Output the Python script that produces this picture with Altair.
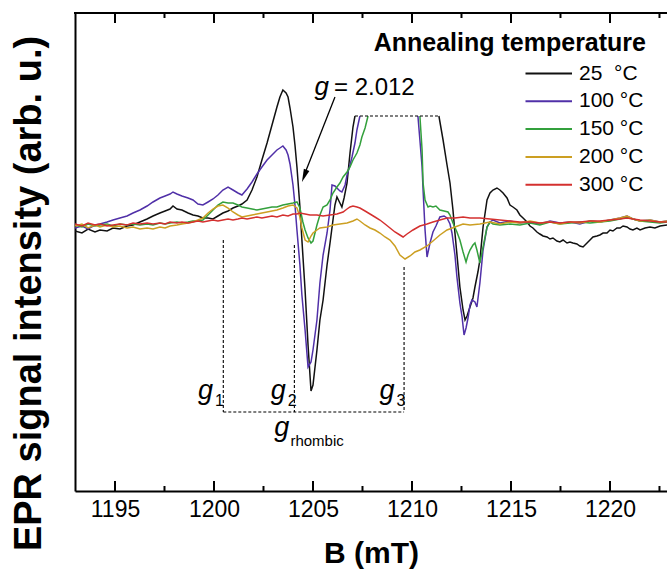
import altair as alt
import pandas as pd

FONT = "Liberation Sans"

SERIES = ["25 °C", "100 °C", "150 °C", "200 °C", "300 °C"]
COLORS = ["#111111", "#5030a8", "#33a03c", "#cc9f22", "#d4302f"]
LEGEND_LABELS = ["\u00a025\u00a0\u00a0°C", "100 °C", "150 °C", "200 °C", "300 °C"]

TICK_VALUES = [1195, 1200, 1205, 1210, 1215, 1220]
MINOR_TICKS = [1197.5, 1202.5, 1207.5, 1212.5, 1217.5, 1222.5]

# ---- 25 °C (two pieces, the top is cut at the dashed line)
B25_a = [1192.98, 1193.33, 1193.64, 1193.99, 1194.24, 1194.60, 1194.90, 1195.25, 1195.61, 1195.91,
         1196.26, 1196.62, 1196.92, 1197.27, 1197.53, 1197.78, 1197.93, 1198.13, 1198.38, 1198.69,
         1198.94, 1199.19, 1199.44, 1199.70, 1199.95, 1200.20, 1200.45, 1200.71, 1200.96, 1201.21,
         1201.41, 1201.67, 1201.92, 1202.17, 1202.42, 1202.68, 1202.93, 1203.18, 1203.33, 1203.48,
         1203.64, 1203.74, 1203.84, 1203.99, 1204.09, 1204.19, 1204.34, 1204.44, 1204.60, 1204.75,
         1204.90, 1205.00, 1205.20, 1205.35, 1205.51, 1205.71, 1205.86, 1206.01, 1206.11, 1206.21,
         1206.36, 1206.46, 1206.57, 1206.72, 1206.87, 1207.02, 1207.12]
I25_a = [-9, -11, -7, -10, -8, -9, -6, -7, -4, -3,
         0, 3, 6, 9, 11, 13, 16, 13, 12, 9,
         7, 6, 4, 4, 3, 6, 9, 11, 14, 16,
         18, 22, 32, 45, 62, 79, 97, 115, 125, 132,
         129, 125, 114, 95, 77, 55, 15, -18, -68, -123,
         -169, -163, -128, -98, -78, -43, -21, 2, 17, 25,
         19, 15, 24, 39, 69, 95, 106]
B25_b = [1211.36, 1211.57, 1211.77, 1211.92, 1212.07, 1212.17, 1212.32, 1212.42, 1212.58, 1212.68,
         1212.78, 1212.93, 1213.08, 1213.18, 1213.33, 1213.43, 1213.59, 1213.79, 1213.94, 1214.09,
         1214.29, 1214.44, 1214.60, 1214.80, 1214.95, 1215.10, 1215.30, 1215.45, 1215.61, 1215.81,
         1215.96, 1216.11, 1216.31, 1216.46, 1216.62, 1216.82, 1216.97, 1217.12, 1217.32, 1217.47,
         1217.63, 1217.83, 1217.98, 1218.13, 1218.33, 1218.48, 1218.64, 1218.84, 1218.99, 1219.14,
         1219.34, 1219.49, 1219.65, 1219.85, 1220.00, 1220.15, 1220.35, 1220.51, 1220.66, 1220.86,
         1221.01, 1221.16, 1221.36, 1221.52, 1221.77, 1222.02, 1222.27, 1222.53, 1222.88]
I25_b = [106, 82, 57, 39, 12, -11, -43, -65, -88, -98,
         -94, -85, -76, -65, -50, -38, -5, 22, 29, 32,
         34, 32, 29, 24, 17, 15, 12, 7, 4, 0,
         -4, -6, -10, -12, -14, -15, -17, -16, -19, -20,
         -18, -21, -20, -21, -22, -24, -25, -21, -18, -15,
         -14, -13, -11, -11, -8, -9, -6, -6, -4, -5,
         -7, -8, -6, -8, -6, -5, -6, -4, -3]

# ---- 100 °C
B100_a = [1192.98, 1193.33, 1193.64, 1193.99, 1194.24, 1194.60, 1194.90, 1195.25, 1195.61, 1195.91,
          1196.26, 1196.62, 1196.92, 1197.27, 1197.53, 1197.78, 1197.93, 1198.13, 1198.38, 1198.69,
          1198.94, 1199.19, 1199.44, 1199.70, 1199.95, 1200.20, 1200.45, 1200.71, 1200.96, 1201.21,
          1201.41, 1201.67, 1201.92, 1202.17, 1202.42, 1202.68, 1202.93, 1203.18, 1203.33, 1203.48,
          1203.64, 1203.74, 1203.84, 1203.99, 1204.09, 1204.19, 1204.34, 1204.44, 1204.60, 1204.75,
          1204.90, 1205.00, 1205.20, 1205.35, 1205.51, 1205.71, 1205.86, 1205.96, 1206.11, 1206.21,
          1206.36, 1206.46, 1206.62, 1206.72, 1206.87, 1206.97, 1207.12, 1207.22, 1207.37]
I100_a = [-6, -4, -7, -3, -2, 0, 2, 4, 6, 9,
          12, 16, 20, 24, 26, 28, 30, 28, 26, 24,
          22, 18, 17, 20, 23, 27, 32, 35, 32, 29,
          27, 33, 40, 48, 55, 62, 67, 72, 74, 76,
          72, 67, 58, 37, 17, -8, -43, -73, -108, -145,
          -140, -128, -98, -61, -33, -11, 12, 37, 36, 34,
          31, 30, 37, 47, 57, 65, 79, 92, 106]
B100_b = [1210.30, 1210.40, 1210.51, 1210.56, 1210.66, 1210.76, 1210.91, 1211.06, 1211.21, 1211.41,
          1211.62, 1211.77, 1211.92, 1212.02, 1212.17, 1212.27, 1212.42, 1212.53, 1212.63, 1212.73,
          1212.83, 1212.93, 1213.03, 1213.18, 1213.28, 1213.43, 1213.59, 1213.79, 1213.94, 1214.09,
          1214.44, 1214.95, 1215.45, 1215.96, 1216.46, 1216.97, 1217.47, 1217.98, 1218.48, 1218.99,
          1219.49, 1220.00, 1220.51, 1220.86, 1221.16, 1221.52, 1222.02, 1222.53, 1222.88]
I100_b = [106, 82, 55, 32, -8, -35, -21, -10, -4, 5,
          6, 4, -2, -11, -33, -55, -81, -95, -113, -106,
          -96, -83, -78, -80, -85, -61, -28, -5, 0, 2,
          -1, 1, -1, 0, -2, 1, -1, 0, -2, 1,
          0, 2, 4, 6, 3, 1, 2, 0, 1]

# ---- 150 °C
B150_a = [1192.98, 1193.33, 1193.64, 1193.99, 1194.24, 1194.60, 1194.90, 1195.25, 1195.61, 1195.91,
          1196.26, 1196.62, 1196.92, 1197.27, 1197.53, 1197.78, 1198.13, 1198.38, 1198.69, 1198.94,
          1199.19, 1199.44, 1199.70, 1199.95, 1200.20, 1200.45, 1200.71, 1200.96, 1201.21, 1201.41,
          1201.67, 1201.92, 1202.17, 1202.42, 1202.68, 1202.93, 1203.18, 1203.48, 1203.74, 1203.99,
          1204.19, 1204.34, 1204.49, 1204.60, 1204.75, 1204.90, 1205.00, 1205.20, 1205.35, 1205.51,
          1205.71, 1205.86, 1206.01, 1206.21, 1206.36, 1206.52, 1206.72, 1206.87, 1207.02, 1207.22,
          1207.37, 1207.47, 1207.63, 1207.73, 1207.78]
I150_a = [-3, -5, -2, -4, -3, -2, -4, -2, -3, -2,
          -3, -2, -3, -1, -2, -1, 0, -1, 0, 1,
          1, 2, 7, 12, 17, 20, 19, 19, 17, 15,
          14, 13, 12, 13, 14, 15, 15, 17, 18, 19,
          20, 14, 0, -8, -16, -21, -19, -3, 7, 15,
          17, 22, 29, 35, 39, 45, 50, 55, 62, 69,
          77, 85, 94, 102, 106]
B150_b = [1210.40, 1210.51, 1210.56, 1210.66, 1210.81, 1210.91, 1211.06, 1211.21, 1211.41, 1211.62,
          1211.82, 1211.92, 1212.07, 1212.27, 1212.42, 1212.58, 1212.73, 1212.83, 1212.93, 1213.08,
          1213.18, 1213.28, 1213.43, 1213.59, 1213.79, 1213.94, 1214.09, 1214.44, 1214.95, 1215.45,
          1215.96, 1216.46, 1216.97, 1217.47, 1217.98, 1218.48, 1218.99, 1219.49, 1220.00, 1220.51,
          1220.86, 1221.16, 1221.52, 1222.02, 1222.53, 1222.88]
I150_b = [106, 72, 39, 22, 15, 16, 15, 16, 12, 11,
          10, 7, -1, -10, -18, -30, -40, -33, -28, -23,
          -21, -28, -41, -25, -5, 0, -2, -3, -2, -3,
          -1, -3, 0, -2, -1, 0, -1, 0, 1, 3,
          5, 3, 1, 0, -1, 0]

# ---- 200 °C
B200 = [1192.98, 1193.33, 1193.64, 1193.99, 1194.24, 1194.60, 1194.90, 1195.25, 1195.61, 1195.91,
        1196.26, 1196.62, 1196.92, 1197.27, 1197.53, 1197.78, 1198.13, 1198.38, 1198.69, 1198.94,
        1199.19, 1199.44, 1199.70, 1199.95, 1200.20, 1200.45, 1200.71, 1200.96, 1201.21, 1201.41,
        1201.67, 1201.92, 1202.17, 1202.42, 1202.68, 1202.93, 1203.18, 1203.48, 1203.74, 1203.99,
        1204.19, 1204.34, 1204.44, 1204.60, 1204.75, 1204.90, 1205.00, 1205.20, 1205.35, 1205.71,
        1206.01, 1206.36, 1206.72, 1207.02, 1207.22, 1207.37, 1207.63, 1207.88, 1208.13, 1208.38,
        1208.64, 1208.89, 1209.14, 1209.39, 1209.65, 1209.90, 1210.15, 1210.40, 1210.76, 1211.06,
        1211.41, 1211.77, 1212.17, 1212.58, 1212.93, 1213.43, 1213.94, 1214.44, 1214.95, 1215.45,
        1215.96, 1216.46, 1216.97, 1217.47, 1217.98, 1218.48, 1218.99, 1219.49, 1220.00, 1220.51,
        1220.86, 1221.16, 1221.52, 1222.02, 1222.53, 1222.88]
I200 = [-4, -2, -6, -3, -5, -3, -5, -4, -6, -5,
        -7, -6, -7, -5, -6, -4, -3, -2, -1, 0,
        2, 4, 9, 13, 16, 17, 14, 10, 7, 5,
        6, 7, 8, 9, 10, 11, 12, 14, 16, 17,
        14, 5, -6, -18, -20, -14, -11, -8, -6, -5,
        -3, -2, -1, 1, 3, 1, -3, -6, -8, -11,
        -15, -18, -24, -33, -37, -34, -30, -28, -24, -19,
        -13, -8, -5, -2, -3, -2, 0, -2, 0, -1,
        1, -1, 0, -2, 0, -1, 1, 0, 2, 4,
        6, 3, 1, 2, 0, 1]

# ---- 300 °C
B300 = [1192.98, 1193.33, 1193.64, 1193.99, 1194.24, 1194.60, 1194.90, 1195.25, 1195.61, 1195.91,
        1196.26, 1196.62, 1196.92, 1197.27, 1197.53, 1197.78, 1198.13, 1198.38, 1198.69, 1198.94,
        1199.19, 1199.44, 1199.70, 1199.95, 1200.20, 1200.45, 1200.71, 1200.96, 1201.21, 1201.41,
        1201.67, 1201.92, 1202.17, 1202.42, 1202.68, 1202.93, 1203.18, 1203.48, 1203.74, 1203.99,
        1204.19, 1204.34, 1204.60, 1204.85, 1205.20, 1205.51, 1205.86, 1206.21, 1206.52, 1206.72,
        1206.87, 1207.02, 1207.22, 1207.37, 1207.63, 1207.88, 1208.13, 1208.38, 1208.64, 1208.89,
        1209.14, 1209.39, 1209.55, 1209.75, 1210.05, 1210.40, 1210.76, 1211.06, 1211.41, 1211.77,
        1212.17, 1212.58, 1212.93, 1213.43, 1213.94, 1214.44, 1214.95, 1215.45, 1215.96, 1216.46,
        1216.97, 1217.47, 1217.98, 1218.48, 1218.99, 1219.49, 1220.00, 1220.51, 1220.86, 1221.16,
        1221.52, 1222.02, 1222.53, 1222.88]
I300 = [-2, -4, -1, -3, -2, -4, -3, -2, -3, -1,
        -2, -1, -2, -1, -2, 0, -1, 0, -1, 0,
        1, 0, 1, 2, 1, 2, 3, 2, 3, 4,
        3, 4, 5, 4, 5, 6, 5, 7, 6, 8,
        8, 9, 8, 7, 7, 6, 7, 8, 10, 13,
        15, 16, 15, 14, 11, 8, 5, 2, -2, -6,
        -10, -13, -15, -12, -8, -4, -2, 0, 2, 4,
        4, 5, 4, 4, 3, 2, 1, 0, 0, -1,
        0, -1, 0, 0, 1, 1, 2, 3, 4, 3,
        2, 1, 0, 0]

# ---- annotation values (g-factor markers)
G_LINES_B = [1200.47, 1204.06, 1209.60]
G_LINES_TOP = [-18, -23, -45]
G_BOX_BOTTOM = -190
CAP_B = [1207.12, 1211.36]
CAP_I = 106

X_DOMAIN = [1192.98, 1222.88]
Y_DOMAIN = [-269, 209]
W, H = 592, 478

pieces = [
    ("25 °C", [(B25_a, I25_a), (B25_b, I25_b)]),
    ("100 °C", [(B100_a, I100_a), (B100_b, I100_b)]),
    ("150 °C", [(B150_a, I150_a), (B150_b, I150_b)]),
    ("200 °C", [(B200, I200)]),
    ("300 °C", [(B300, I300)]),
]

x_scale = alt.Scale(domain=X_DOMAIN, nice=False, zero=False)
y_scale = alt.Scale(domain=Y_DOMAIN, nice=False, zero=False)
color_scale = alt.Scale(domain=SERIES, range=COLORS)

x_axis = alt.Axis(values=TICK_VALUES, ticks=False, grid=False, domain=True, domainColor="black",
                  domainWidth=2, labelFont=FONT, labelFontSize=23, labelColor="black",
                  labelPadding=7, format="d", title="B (mT)", titleFont=FONT, titleFontSize=30,
                  titleFontWeight="bold", titleColor="black", titleY=62, titleBaseline="middle")
y_axis = alt.Axis(labels=False, ticks=False, grid=False, domain=True, domainColor="black",
                  domainWidth=2, title="EPR signal intensity (arb. u.)", titleFont=FONT,
                  titleFontSize=38, titleFontWeight="bold", titleColor="black", titleX=-46,
                  titleY=280, titleAngle=270, titleAlign="center", titleBaseline="middle")

layers = []
for name, segs in pieces:
    rows = []
    for k, (bs, ii) in enumerate(segs):
        for b, v in zip(bs, ii):
            rows.append({"B": b, "I": v, "series": name, "seg": k})
    d = pd.DataFrame(rows)
    layers.append(
        alt.Chart(d).mark_line(strokeWidth=1.5, clip=True).encode(
            x=alt.X("B:Q", scale=x_scale, axis=x_axis),
            y=alt.Y("I:Q", scale=y_scale, axis=y_axis),
            color=alt.Color("series:N", scale=color_scale, legend=None),
            detail="seg:N",
        )
    )

# ticks (inward) bottom and top
maj = pd.DataFrame({"B": TICK_VALUES})
mnr = pd.DataFrame({"B": MINOR_TICKS})
for dfk, ln in [(maj, 10), (mnr, 5)]:
    layers.append(alt.Chart(dfk).mark_rule(color="black", strokeWidth=2).encode(
        x=alt.X("B:Q", scale=x_scale), y=alt.value(H), y2=alt.value(H - ln)))
    layers.append(alt.Chart(dfk).mark_rule(color="black", strokeWidth=2).encode(
        x=alt.X("B:Q", scale=x_scale), y=alt.value(0), y2=alt.value(ln)))

# top frame line
layers.append(alt.Chart(pd.DataFrame({"a": [0]})).mark_rule(color="black", strokeWidth=2).encode(
    x=alt.value(-1), x2=alt.value(W + 2), y=alt.value(0)))

# dashed g markers
gdf = pd.DataFrame({"B": G_LINES_B, "top": G_LINES_TOP, "bot": [G_BOX_BOTTOM] * 3})
layers.append(alt.Chart(gdf).mark_rule(color="black", strokeWidth=1.1, strokeDash=[3, 2]).encode(
    x=alt.X("B:Q", scale=x_scale), y=alt.Y("top:Q", scale=y_scale), y2="bot:Q"))
hdf = pd.DataFrame({"b1": [G_LINES_B[0], CAP_B[0]], "b2": [G_LINES_B[2], CAP_B[1]],
                    "y": [G_BOX_BOTTOM, CAP_I]})
layers.append(alt.Chart(hdf).mark_rule(color="black", strokeWidth=1.1, strokeDash=[3, 2]).encode(
    x=alt.X("b1:Q", scale=x_scale), x2="b2:Q", y=alt.Y("y:Q", scale=y_scale)))

# arrow g = 2.012
adf = pd.DataFrame({"b1": [1206.11], "i1": [125], "b2": [1204.58], "i2": [48]})
layers.append(alt.Chart(adf).mark_rule(color="black", strokeWidth=1.3).encode(
    x=alt.X("b1:Q", scale=x_scale), y=alt.Y("i1:Q", scale=y_scale), x2="b2:Q", y2="i2:Q"))
hd = pd.DataFrame({"B": [1204.56], "I": [46]})
layers.append(alt.Chart(hd).mark_point(shape="M0,-1L0.45,1L-0.45,1Z", filled=True, size=170,
                                       angle=201, color="black", opacity=1).encode(
    x=alt.X("B:Q", scale=x_scale), y=alt.Y("I:Q", scale=y_scale)))


def txt(text, b, i, size, align, style="normal", weight="normal"):
    d = pd.DataFrame({"B": [b], "I": [i], "t": [text]})
    return alt.Chart(d).mark_text(font=FONT, fontSize=size, align=align, baseline="alphabetic",
                                  fontStyle=style, fontWeight=weight, color="black").encode(
        x=alt.X("B:Q", scale=x_scale), y=alt.Y("I:Q", scale=y_scale), text="t:N")


layers += [
    txt("g", 1205.81, 127, 26, "right", "italic"),
    txt("= 2.012", 1206.06, 127, 24, "left"),
    txt("g", 1199.95, -177, 27, "right", "italic"),
    txt("1", 1200.05, -184, 16, "left"),
    txt("g", 1203.62, -177, 27, "right", "italic"),
    txt("2", 1203.72, -184, 16, "left"),
    txt("g", 1209.12, -177, 27, "right", "italic"),
    txt("3", 1209.22, -184, 16, "left"),
    txt("g", 1203.80, -214, 27, "right", "italic"),
    txt("rhombic", 1203.86, -224, 15, "left"),
]

# legend
LEG_X0, LEG_X1, LEG_TX, LEG_Y0, LEG_DY = 450.5, 497, 504, 60.5, 27.8
layers.append(alt.Chart(pd.DataFrame({"t": ["Annealing temperature"]})).mark_text(
    font=FONT, fontSize=25, fontWeight="bold", align="right", baseline="alphabetic",
    color="black").encode(x=alt.value(571), y=alt.value(38), text="t:N"))
for k, (lab, col) in enumerate(zip(LEGEND_LABELS, COLORS)):
    yy = LEG_Y0 + LEG_DY * k
    layers.append(alt.Chart(pd.DataFrame({"t": [lab]})).mark_rule(color=col, strokeWidth=2).encode(
        x=alt.value(LEG_X0), x2=alt.value(LEG_X1), y=alt.value(yy)))
    layers.append(alt.Chart(pd.DataFrame({"t": [lab]})).mark_text(
        font=FONT, fontSize=21, align="left", baseline="middle", color="black").encode(
        x=alt.value(LEG_TX), y=alt.value(yy), text="t:N"))

chart = alt.layer(*layers).properties(
    width=W, height=H,
    padding={"left": 75, "top": 13, "right": 0, "bottom": 82},
    autosize=alt.AutoSizeParams(type="none"),
    background="white",
).configure_view(stroke=None)

chart.save("out.html", embed_options={"renderer": "svg", "actions": False})
